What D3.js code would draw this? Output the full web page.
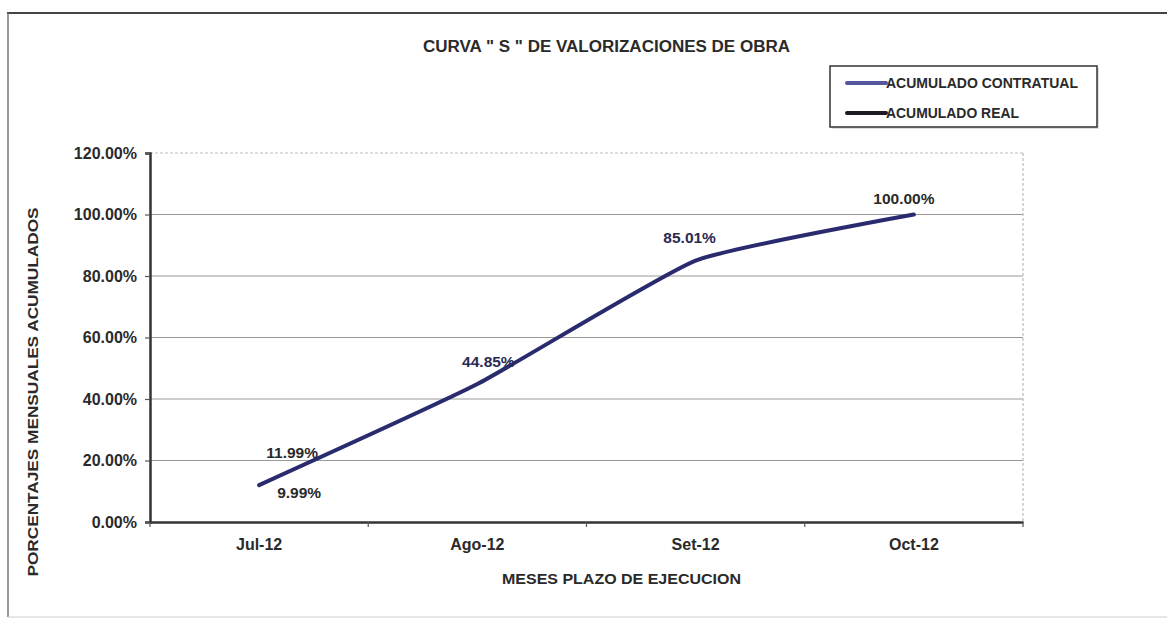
<!DOCTYPE html>
<html>
<head>
<meta charset="utf-8">
<script src="https://cdn.jsdelivr.net/npm/d3@7"></script>
<style>
  body { margin: 0; background: #fff; }
  svg { display: block; }
  text { font-family: "Liberation Sans", Arial, sans-serif; fill: #2a2a2a; }
</style>
</head>
<body>
<svg id="curva" width="1167" height="619"></svg>
<script>
// valores
var meses = ["Jul-12", "Ago-12", "Set-12", "Oct-12"];
var contractual = [11.99, 44.85, 85.01, 100.00];
var real = [9.99, null, null, null];
var yTicks = [0, 20, 40, 60, 80, 100, 120];

var svg = d3.select('#curva');

var x = d3.scaleBand().domain(meses).range([150, 1023]).padding(0);
var y = d3.scaleLinear().domain([0, 120]).range([522, 153]);
var cx = function(d, i) { return x(meses[i]) + x.bandwidth() / 2; };

// marco exterior
svg.append('line').attr('x1', 7).attr('x2', 1167).attr('y1', 13).attr('y2', 13)
    .attr('stroke', '#444').attr('stroke-width', 2);
svg.append('line').attr('x1', 8).attr('x2', 8).attr('y1', 13).attr('y2', 617)
    .attr('stroke', '#777').attr('stroke-width', 1.5);
svg.append('line').attr('x1', 8).attr('x2', 1167).attr('y1', 617).attr('y2', 617)
    .attr('stroke', '#ccc').attr('stroke-width', 1);

// titulo
svg.append('text')
    .attr('x', 423).attr('y', 52)
    .attr('textLength', 367).attr('lengthAdjust', 'spacingAndGlyphs')
    .style('font-size', '16px').style('font-weight', 'bold')
    .text('CURVA " S " DE VALORIZACIONES DE OBRA');

// lineas de division
svg.append('g').selectAll('line')
    .data(yTicks.filter(function(d) { return d > 0; }))
    .enter().append('line')
    .attr('x1', 150).attr('x2', 1023)
    .attr('y1', function(d) { return y(d); })
    .attr('y2', function(d) { return y(d); })
    .attr('stroke', function(d) { return d === 120 ? '#bbb' : '#999'; })
    .attr('stroke-dasharray', function(d) { return d === 120 ? '3,2' : null; })
    .attr('stroke-width', 1.2);

// borde derecho del area de trazado
svg.append('line').attr('x1', 1023).attr('x2', 1023).attr('y1', y(120)).attr('y2', y(0))
    .attr('stroke', '#bbb').attr('stroke-dasharray', '3,2').attr('stroke-width', 1.2);

// eje Y
var yAxis = svg.append('g')
    .attr('transform', 'translate(150,0)')
    .call(d3.axisLeft(y).tickValues(yTicks).tickSize(5)
        .tickFormat(function(d) { return d.toFixed(2) + '%'; }));
yAxis.select('.domain').attr('stroke', '#333').attr('stroke-width', 2.5);
yAxis.selectAll('.tick line').attr('stroke', '#555').attr('stroke-width', 1.2);
yAxis.selectAll('.tick text')
    .attr('x', -13)
    .style('font-size', '16px').style('font-weight', 'bold')
    .style('font-family', '"Liberation Sans", Arial, sans-serif')
    .attr('fill', '#2a2a2a');

// eje X
var xAxis = svg.append('g')
    .attr('transform', 'translate(0,522)')
    .call(d3.axisBottom(x).tickSize(0).tickPadding(17));
xAxis.select('.domain').attr('stroke', '#333').attr('stroke-width', 2.5);
xAxis.selectAll('.tick text')
    .style('font-size', '16px').style('font-weight', 'bold')
    .style('font-family', '"Liberation Sans", Arial, sans-serif')
    .attr('fill', '#2a2a2a');
svg.append('g').selectAll('line')
    .data(meses.map(function(m) { return x(m); }).concat([x.range()[1]]))
    .enter().append('line')
    .attr('x1', function(d) { return d; }).attr('x2', function(d) { return d; })
    .attr('y1', 522).attr('y2', 527)
    .attr('stroke', '#555').attr('stroke-width', 1.2);

// titulos de ejes
svg.append('text')
    .attr('transform', 'translate(38,392) rotate(-90)')
    .attr('text-anchor', 'middle')
    .attr('textLength', 369).attr('lengthAdjust', 'spacingAndGlyphs')
    .style('font-size', '15px').style('font-weight', 'bold')
    .text('PORCENTAJES  MENSUALES  ACUMULADOS');

svg.append('text')
    .attr('x', 502).attr('y', 584)
    .attr('textLength', 239).attr('lengthAdjust', 'spacingAndGlyphs')
    .style('font-size', '15px').style('font-weight', 'bold')
    .text('MESES PLAZO DE EJECUCION');

// curvas
var line = d3.line()
    .defined(function(d) { return d !== null; })
    .x(cx)
    .y(function(d) { return y(d); })
    .curve(d3.curveCardinal.tension(0.55));

svg.append('path')
    .attr('d', line(contractual))
    .attr('fill', 'none')
    .attr('stroke', '#2a2a6e')
    .attr('stroke-width', 4)
    .attr('stroke-linecap', 'round');

svg.append('path')
    .attr('d', line(real))
    .attr('fill', 'none')
    .attr('stroke', '#1e1a28')
    .attr('stroke-width', 4);

// etiquetas de datos
var offC = [[33, -27], [11, -17], [-6, -18], [-10, -11]];
svg.append('g').selectAll('text')
    .data(contractual)
    .enter().append('text')
    .attr('x', function(d, i) { return cx(d, i) + offC[i][0]; })
    .attr('y', function(d, i) { return y(d) + offC[i][1]; })
    .attr('text-anchor', 'middle')
    .style('font-size', '15.5px').style('font-weight', 'bold')
    .style('fill', function(d, i) { return (i === 1 || i === 2) ? '#2b2a52' : '#2a2a2a'; })
    .text(function(d) { return d.toFixed(2) + '%'; });

svg.append('g').selectAll('text')
    .data(real)
    .enter().filter(function(d) { return d !== null; }).append('text')
    .attr('x', function(d, i) { return cx(d, i) + 40; })
    .attr('y', function(d) { return y(d) + 7; })
    .attr('text-anchor', 'middle')
    .style('font-size', '15.5px').style('font-weight', 'bold')
    .text(function(d) { return d.toFixed(2) + '%'; });

// leyenda
var leyenda = [
    { nombre: 'ACUMULADO CONTRATUAL', color: '#5457a0', ancho: 192 },
    { nombre: 'ACUMULADO REAL', color: '#1e1a24', ancho: 133 }
];
svg.append('rect')
    .attr('x', 832).attr('y', 68).attr('width', 267).attr('height', 61)
    .attr('fill', '#ddd');
svg.append('rect')
    .attr('x', 830).attr('y', 66).attr('width', 267).attr('height', 61)
    .attr('fill', '#fff').attr('stroke', '#333').attr('stroke-width', 1.5);
var item = svg.append('g').selectAll('g')
    .data(leyenda)
    .enter().append('g')
    .attr('transform', function(d, i) { return 'translate(0,' + (83 + i * 30) + ')'; });
item.append('line')
    .attr('x1', 847).attr('x2', 886)
    .attr('stroke', function(d) { return d.color; })
    .attr('stroke-width', 4).attr('stroke-linecap', 'round');
item.append('text')
    .attr('x', 886).attr('y', 5)
    .attr('textLength', function(d) { return d.ancho; })
    .attr('lengthAdjust', 'spacingAndGlyphs')
    .style('font-size', '14.5px').style('font-weight', 'bold')
    .text(function(d) { return d.nombre; });
</script>
</body>
</html>
